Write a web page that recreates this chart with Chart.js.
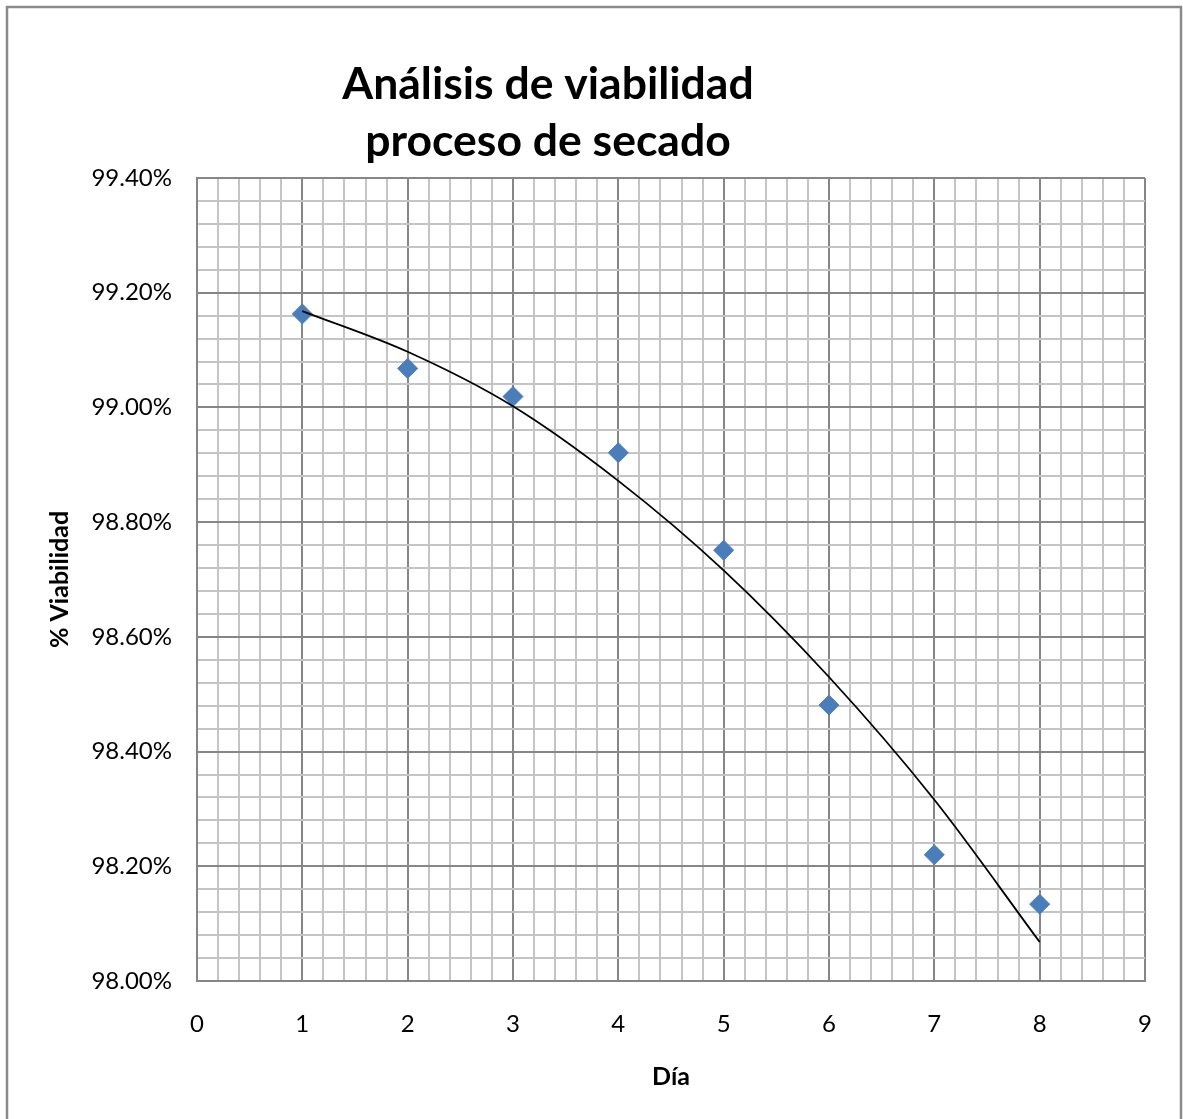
<!DOCTYPE html>
<html>
<head>
<meta charset="utf-8">
<script src="https://cdn.jsdelivr.net/npm/chart.js@4/dist/chart.umd.min.js"></script>
<style>
  html, body { margin: 0; padding: 0; background: #ffffff; }
  canvas { display: block; }
</style>
</head>
<body>
<canvas id="c" width="1183" height="1119"></canvas>
<script>
// ---- data ----
const chartTitle = ["Análisis de viabilidad", "proceso de secado"];
const xAxisTitle = "Día";
const yAxisTitle = "% Viabilidad";

const days = [1, 2, 3, 4, 5, 6, 7, 8];
const viability = [99.163, 99.068, 99.019, 98.921, 98.751, 98.481, 98.220, 98.134];

// polynomial trendline as it appears in the picture (read at each day)
const trendDays = [1, 2, 3, 4, 5, 6, 7, 8];
const trendValues = [99.168, 99.097, 99.002, 98.872, 98.716, 98.530, 98.316, 98.068];

const xMin = 0, xMax = 9, xMajor = 1, xMinor = 0.2;
const yMin = 98.0, yMax = 99.4, yMajor = 0.2, yMinor = 0.04;

// ---- styling ----
const MAJOR = '#868686';
const MINOR = '#c4c4c4';
const FONT = 'Lato, "Open Sans", "Liberation Sans", sans-serif';

function isMultiple(v, step) {
  const r = v / step;
  return Math.abs(r - Math.round(r)) < 1e-6;
}

const pointData = days.map((d, i) => ({ x: d, y: viability[i] }));
const trendData = trendDays.map((d, i) => ({ x: d, y: trendValues[i] }));

const framePlugin = {
  id: 'frame',
  beforeDraw(chart) {
    const ctx = chart.ctx;
    ctx.save();
    ctx.fillStyle = '#ffffff';
    ctx.fillRect(0, 0, chart.width, chart.height);
    ctx.restore();
  },
  afterDraw(chart) {
    const ctx = chart.ctx;
    ctx.save();
    // outer chart border
    ctx.strokeStyle = '#8a8a8a';
    ctx.lineWidth = 2.5;
    ctx.strokeRect(7, 7, 1174, 1140);
    // title
    ctx.fillStyle = '#000000';
    ctx.font = 'bold 44.5px ' + FONT;
    ctx.textAlign = 'center';
    ctx.textBaseline = 'alphabetic';
    ctx.fillText(chartTitle[0], 548, 99);
    ctx.fillText(chartTitle[1], 548, 156);
    ctx.restore();
  }
};

new Chart(document.getElementById('c'), {
  type: 'scatter',
  data: {
    datasets: [
      {
        label: 'Tendencia',
        data: trendData,
        showLine: true,
        borderColor: '#000000',
        borderWidth: 1.8,
        pointRadius: 0,
        pointHoverRadius: 0,
        fill: false,
        cubicInterpolationMode: 'monotone',
        order: 0
      },
      {
        label: '% Viabilidad',
        data: pointData,
        showLine: false,
        pointStyle: 'rectRot',
        pointRadius: 10,
        pointHoverRadius: 10,
        backgroundColor: '#4a7ebb',
        borderColor: '#4a7ebb',
        borderWidth: 1,
        order: 1
      }
    ]
  },
  options: {
    responsive: false,
    animation: false,
    events: [],
    layout: { padding: { left: 0, right: 38, top: 178, bottom: 0 } },
    plugins: {
      legend: { display: false },
      title: { display: false },
      tooltip: { enabled: false }
    },
    scales: {
      x: {
        type: 'linear',
        position: 'bottom',
        min: xMin,
        max: xMax,
        afterFit(scale) { scale.height = 138; },
        ticks: {
          stepSize: xMinor,
          maxTicksLimit: 1000,
          autoSkip: false,
          maxRotation: 0,
          padding: 29,
          color: '#000000',
          font: { family: FONT, size: 24 },
          callback(v) { return isMultiple(v, xMajor) ? String(Math.round(v)) : ''; }
        },
        grid: {
          drawTicks: false,
          lineWidth: 2,
          color(c) { return isMultiple(c.tick.value, xMajor) ? MAJOR : MINOR; }
        },
        border: { color: MAJOR, width: 2 },
        title: {
          display: true,
          text: xAxisTitle,
          color: '#000000',
          font: { family: FONT, size: 25, weight: 'bold' },
          padding: { top: 0, bottom: 27 }
        }
      },
      y: {
        type: 'linear',
        position: 'left',
        min: yMin,
        max: yMax,
        afterFit(scale) { scale.width = 197; },
        ticks: {
          stepSize: yMinor,
          maxTicksLimit: 1000,
          autoSkip: false,
          padding: 25,
          color: '#000000',
          font: { family: FONT, size: 24 },
          callback(v) { return isMultiple(v, yMajor) ? v.toFixed(2) + '%' : ''; }
        },
        grid: {
          drawTicks: false,
          lineWidth: 2,
          color(c) { return isMultiple(c.tick.value, yMajor) ? MAJOR : MINOR; }
        },
        border: { color: MAJOR, width: 2 },
        title: {
          display: true,
          text: yAxisTitle,
          color: '#000000',
          font: { family: FONT, size: 25, weight: 'bold' },
          padding: { top: 45, bottom: 0 }
        }
      }
    }
  },
  plugins: [framePlugin]
});
</script>
</body>
</html>
